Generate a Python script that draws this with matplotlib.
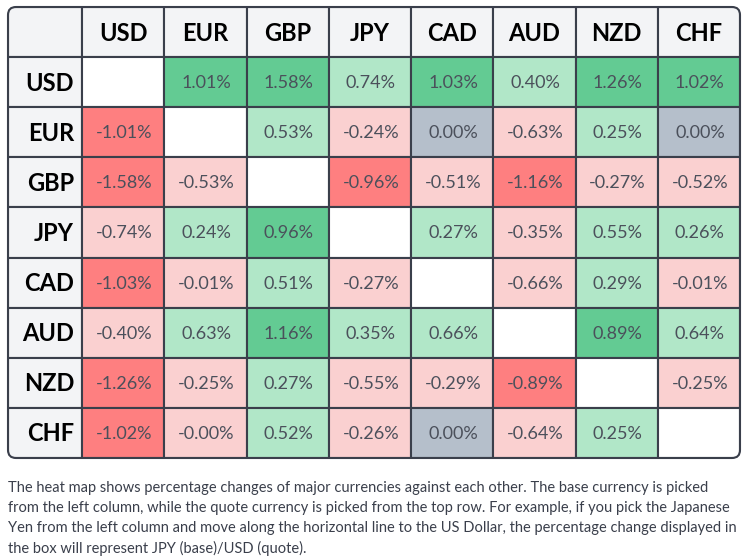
import matplotlib.pyplot as plt
import numpy as np
from matplotlib.patches import Rectangle, FancyBboxPatch

currencies = ["USD", "EUR", "GBP", "JPY", "CAD", "AUD", "NZD", "CHF"]

# percentage change, row = base, column = quote (nan on the diagonal)
nan = np.nan
changes = [
    [nan, 1.01, 1.58, 0.74, 1.03, 0.40, 1.26, 1.02],
    [-1.01, nan, 0.53, -0.24, 0.00, -0.63, 0.25, 0.00],
    [-1.58, -0.53, nan, -0.96, -0.51, -1.16, -0.27, -0.52],
    [-0.74, 0.24, 0.96, nan, 0.27, -0.35, 0.55, 0.26],
    [-1.03, -0.01, 0.51, -0.27, nan, -0.66, 0.29, -0.01],
    [-0.40, 0.63, 1.16, 0.35, 0.66, nan, 0.89, 0.64],
    [-1.26, -0.25, 0.27, -0.55, -0.29, -0.89, nan, -0.25],
    [-1.02, -0.00, 0.52, -0.26, 0.00, -0.64, 0.25, nan],
]

caption_lines = [
    "The heat map shows percentage changes of major currencies against each other. The base currency is picked",
    "from the left column, while the quote currency is picked from the top row. For example, if you pick the Japanese",
    "Yen from the left column and move along the horizontal line to the US Dollar, the percentage change displayed in",
    "the box will represent JPY (base)/USD (quote).",
]

plt.rcParams['font.family'] = ['Lato', 'DejaVu Sans']

W, H = 747, 559
fig = plt.figure(figsize=(W / 100, H / 100), dpi=100)
ax = fig.add_axes([0, 0, 1, 1])
ax.set_xlim(0, W)
ax.set_ylim(H, 0)
ax.axis('off')

border = '#3a3f4b'
header_bg = '#f3f4f6'
strong_green = '#63cb93'
light_green = '#b1e7c8'
strong_red = '#fe7f80'
light_red = '#fad0d0'
grey = '#b5bfcb'

x0, y0 = 8, 7
first_w = 74
cell_w = (740 - x0 - first_w) / 8
cell_h = (458 - y0) / 9

def col_left(j):
    # j = -1 is the label column
    return x0 if j < 0 else x0 + first_w + j * cell_w

def col_width(j):
    return first_w if j < 0 else cell_w

def cell_color(v):
    if np.isnan(v):
        return 'white'
    if v == 0 and not np.signbit(v):
        return grey
    if v > 0:
        return strong_green if v >= 0.8 else light_green
    return strong_red if v <= -0.8 else light_red

# outer frame with rounded corners, also used to clip the cells
frame = FancyBboxPatch((x0, y0), 740 - x0, 458 - y0,
                       boxstyle='round,pad=0,rounding_size=8',
                       facecolor='none', edgecolor=border, linewidth=1.5, zorder=3)
ax.add_patch(frame)

n = len(currencies)
for i in range(-1, n):
    for j in range(-1, n):
        x = col_left(j)
        y = y0 + (i + 1) * cell_h
        w = col_width(j)
        if i < 0 or j < 0:
            fc = header_bg
        else:
            fc = cell_color(changes[i][j])
        r = Rectangle((x, y), w, cell_h, facecolor=fc,
                      edgecolor=border, linewidth=1.5, zorder=1)
        ax.add_patch(r)
        r.set_clip_path(frame)
        if i < 0 and j < 0:
            continue
        if i < 0:
            ax.text(x + w / 2, y + cell_h / 2 + 1, currencies[j], ha='center',
                    va='center', fontsize=17, fontweight='bold', color='black')
        elif j < 0:
            ax.text(x + w - 8, y + cell_h / 2 + 1, currencies[i], ha='right',
                    va='center', fontsize=17, fontweight='bold', color='black')
        else:
            v = changes[i][j]
            if not np.isnan(v):
                ax.text(x + w / 2 + 1, y + cell_h / 2 + 1, f"{v:.2f}%", ha='center',
                        va='center', fontsize=13, color='#4b505b')

for k, line in enumerate(caption_lines):
    ax.text(8, 488 + k * 20, line, ha='left', va='center', fontsize=10.5, color='#3a3f4b')

fig.savefig('out.png', dpi=100)
